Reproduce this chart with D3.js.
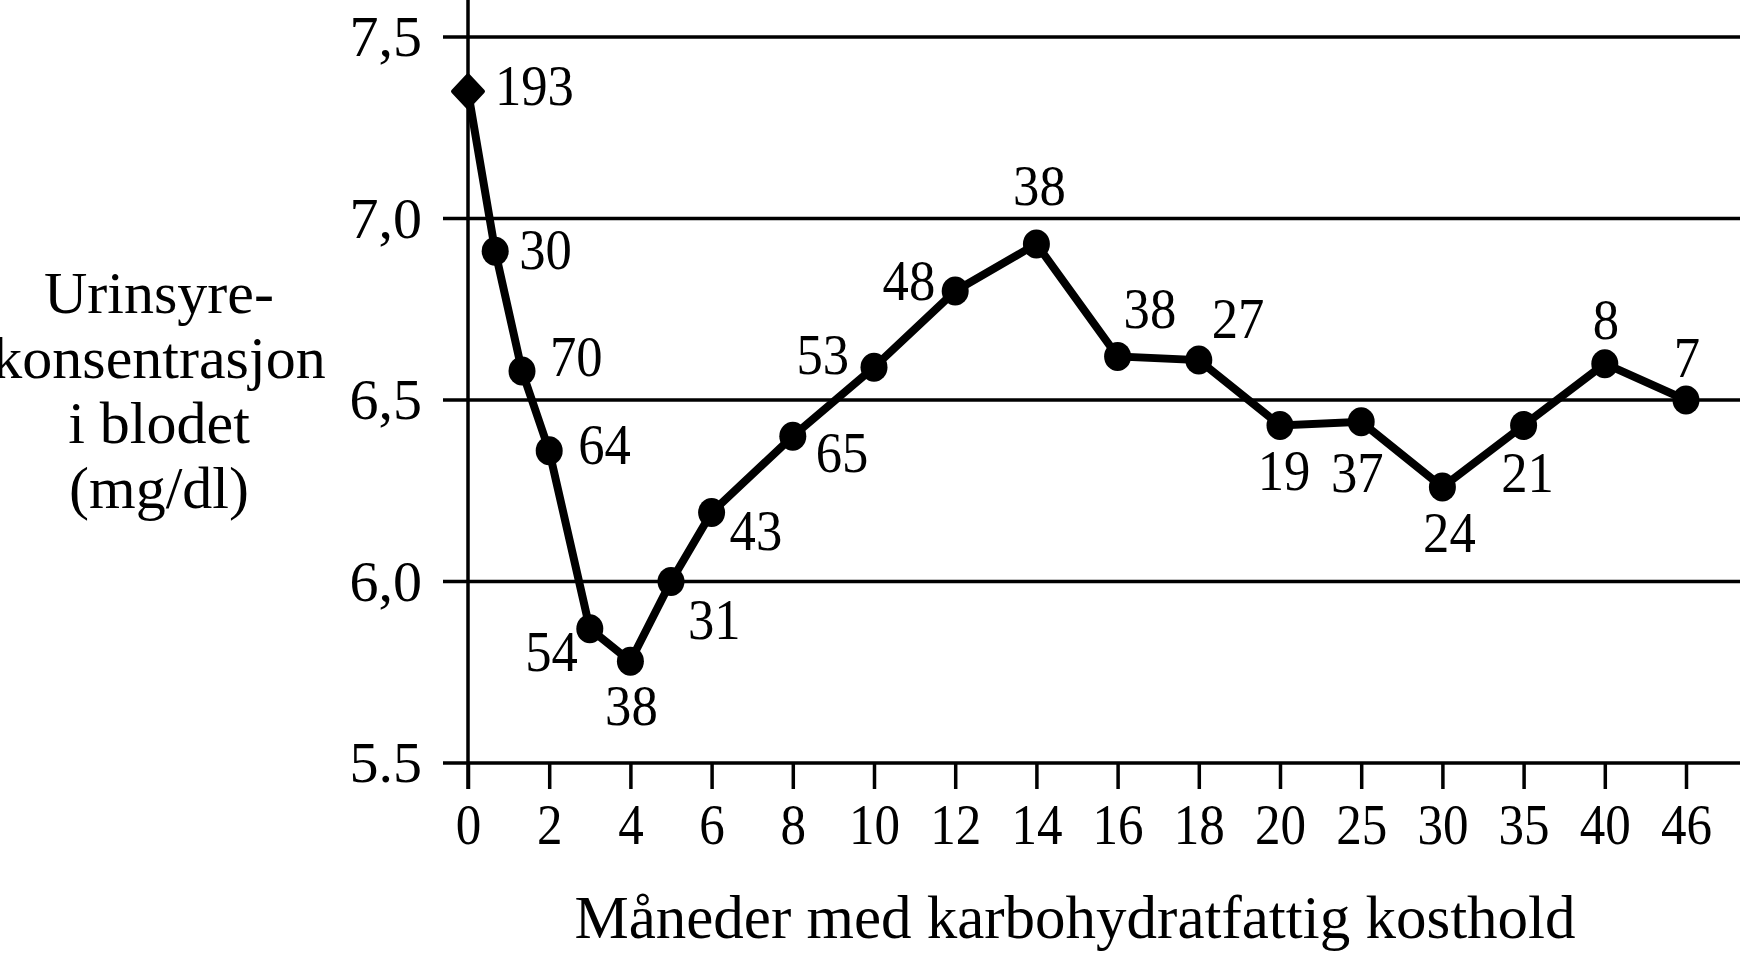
<!DOCTYPE html>
<html>
<head>
<meta charset="utf-8">
<script src="https://cdn.jsdelivr.net/npm/d3@7"></script>
<style>
  html, body { margin: 0; padding: 0; background: #fff; }
  svg { display: block; }
  text { font-family: "Liberation Serif", "DejaVu Serif", serif; fill: #000; }
</style>
</head>
<body>
<svg id="chart" width="1740" height="954"></svg>
<script>
// ---- data ----
const months = [0, 0.67, 1.33, 2, 3, 4, 5, 6, 8, 10, 12, 14, 16, 18, 20, 25, 30, 35, 40, 46];
const uricAcid = [7.35, 6.91, 6.58, 6.36, 5.87, 5.78, 6.00, 6.19, 6.40, 6.59, 6.80, 6.93, 6.62, 6.61, 6.43, 6.44, 6.26, 6.43, 6.60, 6.50];
const patientCounts = ["193", "30", "70", "64", "54", "38", "31", "43", "65", "53", "48", "38", "38", "27", "19", "37", "24", "21", "8", "7"];
const xTickValues = [0, 2, 4, 6, 8, 10, 12, 14, 16, 18, 20, 25, 30, 35, 40, 46];
const yTickValues = [5.5, 6.0, 6.5, 7.0, 7.5];
const yTickLabels = ["5.5", "6,0", "6,5", "7,0", "7,5"];
const xTitle = "Måneder med karbohydratfattig kosthold";
const yTitleLines = ["Urinsyre-", "konsentrasjon", "i blodet", "(mg/dl)"];

// ---- label layout (offset from marker, anchor) ----
const labelLayout = [
  [27, 14, "start"], [24, 18, "start"], [28, 5, "start"], [29, 13, "start"],
  [-12, 42, "end"], [1, 64, "middle"], [17, 57, "start"], [18, 37, "start"],
  [23, 36, "start"], [-25, 7, "end"], [-20, 9, "end"], [3, -39, "middle"],
  [6, -28, "start"], [13, -22, "start"], [4, 65, "middle"], [-4, 70, "middle"],
  [7, 65, "middle"], [4, 67, "middle"], [1, -25, "middle"], [1, -23, "middle"]
];

const svg = d3.select("#chart");
const left = 468, step = 81.2;
const x = d3.scaleLinear()
  .domain(xTickValues)
  .range(xTickValues.map((d, i) => left + i * step));
const y = d3.scaleLinear().domain([5.5, 7.5]).range([763, 37]);

// gridlines (incl. baseline at 5.5)
svg.append("g").selectAll("line").data(yTickValues).join("line")
  .attr("x1", 443).attr("x2", 1740)
  .attr("y1", d => y(d)).attr("y2", d => y(d))
  .attr("stroke", "#000").attr("stroke-width", 3.5);

// y axis line
svg.append("line").attr("x1", left).attr("x2", left).attr("y1", 0).attr("y2", 789)
  .attr("stroke", "#000").attr("stroke-width", 3.5);

// x axis
const gx = svg.append("g").attr("transform", `translate(0,${y(5.5)})`)
  .call(d3.axisBottom(x).tickValues(xTickValues).tickSize(26).tickPadding(14).tickFormat(d3.format("d")));
gx.select(".domain").remove();
gx.selectAll(".tick line").attr("stroke", "#000").attr("stroke-width", 3.5);
gx.selectAll(".tick text")
  .attr("font-family", "Liberation Serif").attr("font-size", 58)
  .attr("x", 0)
  .attr("transform", "scale(0.88,1)");

// y axis labels
const gy = svg.append("g").attr("transform", `translate(${left},0)`)
  .call(d3.axisLeft(y).tickValues(yTickValues).tickSize(0).tickPadding(46)
    .tickFormat((d, i) => yTickLabels[i]));
gy.select(".domain").remove();
gy.selectAll(".tick text")
  .attr("font-family", "Liberation Serif").attr("font-size", 58);

// data line
const line = d3.line().x((d, i) => x(months[i])).y(d => y(d));
svg.append("path").datum(uricAcid)
  .attr("d", line)
  .attr("fill", "none").attr("stroke", "#000").attr("stroke-width", 8)
  .attr("stroke-linejoin", "miter");

// markers
const pts = uricAcid.map((v, i) => ({ m: months[i], v, i }));
svg.append("g").selectAll("path").data(pts).join("path")
  .attr("transform", d => `translate(${x(d.m)},${y(d.v)})`)
  .attr("d", d => d.i === 0
    ? "M0,-16L15,0L0,16L-15,0Z"
    : "M0,-14.5A13.5,14.5 0 1,1 0,14.5A13.5,14.5 0 1,1 0,-14.5Z")
  .attr("fill", "#000")
  .attr("stroke", d => d.i === 0 ? "#000" : "none")
  .attr("stroke-width", 4)
  .attr("stroke-linejoin", "round");

// data labels
svg.append("g").selectAll("text").data(pts).join("text")
  .attr("transform", d => `translate(${x(d.m) + labelLayout[d.i][0]},${y(d.v) + labelLayout[d.i][1]}) scale(0.94,1)`)
  .attr("text-anchor", d => labelLayout[d.i][2])
  .attr("font-size", 56)
  .text(d => patientCounts[d.i]);

// x title
svg.append("text").attr("x", 1075).attr("y", 938).attr("text-anchor", "middle")
  .attr("font-size", 61).text(xTitle);

// y title
svg.append("text").attr("text-anchor", "middle").attr("font-size", 60)
  .selectAll("tspan").data(yTitleLines).join("tspan")
  .attr("x", 159).attr("y", (d, i) => 313 + i * 65)
  .text(d => d);
</script>
</body>
</html>
